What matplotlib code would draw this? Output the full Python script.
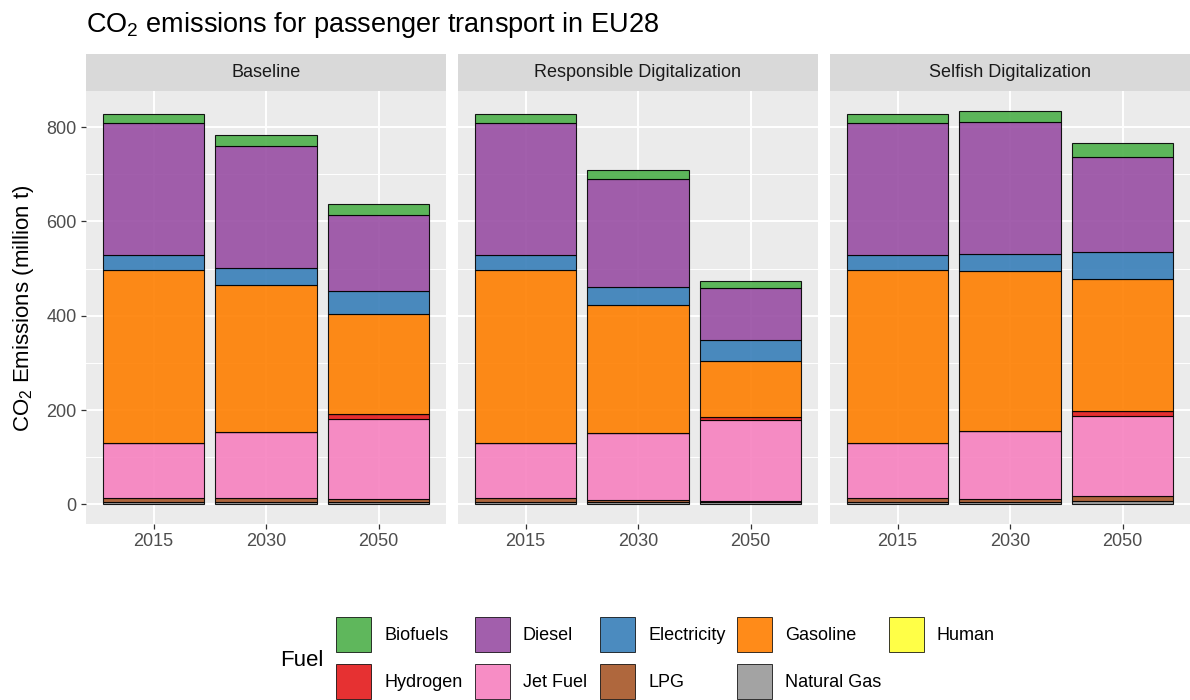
import matplotlib
matplotlib.use('Agg')
import matplotlib.pyplot as plt
import numpy as np
from matplotlib.patches import Rectangle

plt.rcParams['font.family'] = ['Liberation Sans', 'DejaVu Sans']
plt.rcParams['mathtext.default'] = 'regular'

# 数据
scenarios = ['Baseline', 'Responsible Digitalization', 'Selfish Digitalization']
years = ['2015', '2030', '2050']
fuels = ['Biofuels', 'Diesel', 'Electricity', 'Gasoline', 'Human',
         'Hydrogen', 'Jet Fuel', 'LPG', 'Natural Gas']

# 每个燃料: Baseline(2015,2030,2050), Responsible(...), Selfish(...)
biofuels    = [21, 23, 24,   21, 20, 15,   21, 23, 30]
diesel      = [279, 259, 160, 279, 230, 110, 279, 280, 201]
electricity = [31, 35, 50,   31, 38, 43,   31, 38, 59]
gasoline    = [367, 312, 211, 367, 270, 120, 367, 339, 280]
human       = [0, 0, 0,      0, 0, 0,      0, 0, 0]
hydrogen    = [0, 0, 10,     0, 0, 7,      0, 0, 10]
jet_fuel    = [118, 141, 170, 118, 142, 170, 118, 143, 170]
lpg         = [9, 8, 7,      9, 5, 4,      9, 7, 9]
natural_gas = [4, 5, 5,      4, 5, 4,      4, 5, 8]

fuel_values = [biofuels, diesel, electricity, gasoline, human,
               hydrogen, jet_fuel, lpg, natural_gas]
colors = ['#4DAF4A', '#984EA3', '#377EB8', '#FF7F00', '#FFFF33',
          '#E41A1C', '#F781BF', '#A65628', '#999999']

W, H = 1190, 700
fig = plt.figure(figsize=(W / 100, H / 100), dpi=100)

totals = np.sum(np.array(fuel_values), axis=0)
ymax = totals.max()
ylim = (-0.05 * ymax, ymax * 1.05)

panel_left = [86, 458, 830]
panel_w = 360
panel_top, panel_bot = 91, 524
strip_top = 53.5

x = np.arange(1, 4)
for k, scen in enumerate(scenarios):
    ax = fig.add_axes([panel_left[k] / W, 1 - panel_bot / H,
                       panel_w / W, (panel_bot - panel_top) / H])
    ax.set_facecolor('#EBEBEB')
    for s in ax.spines.values():
        s.set_visible(False)
    ax.set_xlim(0.4, 3.6)
    ax.set_ylim(*ylim)
    # 网格
    for yv in [100, 300, 500, 700]:
        ax.axhline(yv, color='white', lw=0.7, zorder=0)
    for yv in [0, 200, 400, 600, 800]:
        ax.axhline(yv, color='white', lw=1.4, zorder=0)
    for xv in x:
        ax.axvline(xv, color='white', lw=1.4, zorder=0)

    # 堆叠条形 (从下往上: Natural Gas ... Biofuels)
    bottom = np.zeros(3)
    for vals, c in zip(fuel_values[::-1], colors[::-1]):
        v = np.array(vals[k * 3:(k + 1) * 3], dtype=float)
        ax.bar(x, v, width=0.9, bottom=bottom, color=c, alpha=0.9,
               edgecolor='black', linewidth=0.8, zorder=2)
        bottom += v

    ax.set_xticks(x)
    ax.set_xticklabels(years, fontsize=13, color='#4D4D4D')
    ax.set_yticks([0, 200, 400, 600, 800])
    ax.tick_params(length=3.75, color='#333333', width=0.9, pad=3)
    if k == 0:
        ax.set_yticklabels(['0', '200', '400', '600', '800'], fontsize=13, color='#4D4D4D')
    else:
        ax.tick_params(axis='y', length=0, labelleft=False)

    # 分面标签
    sax = fig.add_axes([panel_left[k] / W, 1 - panel_top / H,
                        panel_w / W, (panel_top - strip_top) / H])
    sax.set_facecolor('#D9D9D9')
    sax.set_xticks([])
    sax.set_yticks([])
    for s in sax.spines.values():
        s.set_visible(False)
    sax.text(0.5, 0.5, scen, ha='center', va='center', fontsize=13,
             color='#1A1A1A', transform=sax.transAxes)

# 标题和坐标轴标签
fig.text(86 / W, 1 - 25 / H, r'CO$_2$ emissions for passenger transport in EU28',
         fontsize=19.5, ha='left', va='center')
fig.text(24 / W, 1 - 308 / H, r'CO$_2$ Emissions (million t)', fontsize=16,
         rotation=90, ha='center', va='center')

# 图例 (手动绘制, 按行排列)
key_x = [336, 475, 600, 737, 889]
row_y = [616.5, 664]
key_w, key_h = 35, 35
text_dx = 48
for i, (name, c) in enumerate(zip(fuels, colors)):
    r, col = divmod(i, 5)
    kx, ky = key_x[col], row_y[r]
    fig.add_artist(Rectangle((kx / W, 1 - (ky + key_h) / H), key_w / W, key_h / H,
                             transform=fig.transFigure, facecolor=c, alpha=0.9,
                             edgecolor='black', linewidth=0.6))
    fig.text((kx + text_dx) / W, 1 - (ky + key_h / 2 + 1) / H, name,
             fontsize=13, ha='left', va='center')
fig.text(280 / W, 1 - 660 / H, 'Fuel', fontsize=16, ha='left', va='center')

fig.savefig('out.png', dpi=100)
